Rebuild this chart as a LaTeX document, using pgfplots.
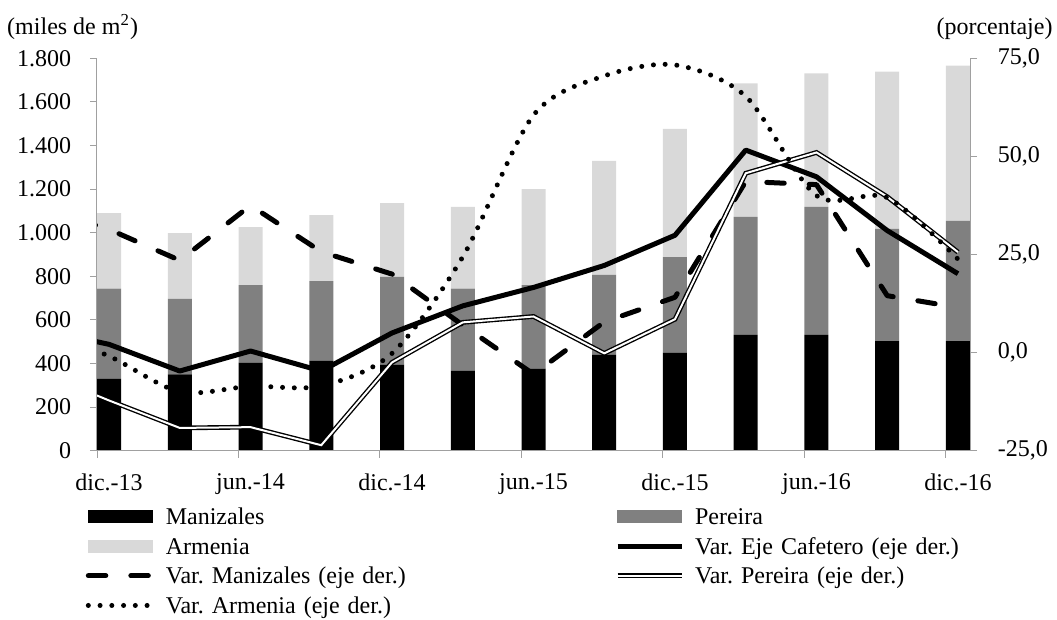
\documentclass[border=0pt]{standalone}
\usepackage{fontspec}
\setmainfont{Liberation Serif}
\usepackage{pgfplots}
\pgfplotsset{compat=1.18}
\definecolor{axgray}{RGB}{160,160,160}
\definecolor{pgray}{RGB}{128,128,128}
\definecolor{agray}{RGB}{217,217,217}
\pgfplotsset{
  lineleg/.style={legend image code/.code={\draw[##1] (0pt,0pt) -- (25.6pt,0pt); \path (30pt,0pt);}},
  barleg/.style={legend image code/.code={\fill[#1] (0pt,-2.4pt) rectangle (25.6pt,2.4pt); \path (30pt,0pt);}},
}
\frenchspacing
\begin{document}
\frenchspacing
\begin{tikzpicture}[font=\fontsize{9.6}{11.5}\selectfont\frenchspacing]
\pgfplotsset{
  every axis/.append style={
    scale only axis, width=349.2pt, height=156.96pt, at={(0pt,0pt)}, anchor=south west,
    xmin=-0.17, xmax=12.17,
    axis line style={draw=axgray, line width=0.4pt},
    tick style={draw=axgray, line width=0.4pt},
    tick align=outside, major tick length=2.8pt,
    tick label style={font=\fontsize{9.6}{11.5}\selectfont},
  }
}
\begin{axis}[
  ybar stacked, bar width=9.6pt,
  ymin=0, ymax=1800,
  axis y line*=left, axis x line*=bottom,
  ytick={0,200,...,1800},
  yticklabels={0,200,400,600,800,1.000,1.200,1.400,1.600,1.800},
  yticklabel style={xshift=-4pt},
  xtick={0,2,...,12},
  xticklabels={dic.-13,jun.-14,dic.-14,jun.-15,dic.-15,jun.-16,dic.-16},
  xtick style={draw=none},
  xticklabel style={yshift=-3pt},
]
\addplot[fill=black, draw=none] coordinates {(0,329) (1,350) (2,404) (3,413) (4,395) (5,367) (6,376) (7,439) (8,450) (9,531) (10,531) (11,503) (12,503)};
\addplot[fill=pgray, draw=none] coordinates {(0,414) (1,346) (2,356) (3,365) (4,402) (5,376) (6,384) (7,367) (8,438) (9,541) (10,587) (11,514) (12,551)};
\addplot[fill=agray, draw=none] coordinates {(0,347) (1,302) (2,266) (3,303) (4,339) (5,375) (6,440) (7,523) (8,588) (9,613) (10,613) (11,722) (12,712)};
\end{axis}
\begin{axis}[
  ymin=-25, ymax=75,
  axis y line*=right, axis x line*=bottom,
  ytick={-25,0,25,50,75},
  yticklabels={{-25,0},{0,0},{25,0},{50,0},{75,0}},
  yticklabel style={xshift=4.8pt},
  xtick={-0.17,1.83,3.83,5.83,7.83,9.83,11.83},
  xticklabels={},
  legend columns=2,
  legend cell align=left,
  legend style={draw=none, fill=none, inner sep=0pt, outer sep=0pt, column sep=0pt, row sep=0pt,
    at={(-0.0128,-0.1295)}, anchor=north west,
    nodes={inner sep=0pt, text width=179.7pt, minimum height=11.88pt, text height=8pt, text depth=1.6pt, anchor=west, align=left, font=\fontsize{9.6}{11.5}\selectfont\frenchspacing}},
]
\addlegendimage{barleg=black}
\addlegendentry{Manizales}
\addlegendimage{barleg=pgray}
\addlegendentry{Pereira}
\addlegendimage{barleg=agray}
\addlegendentry{Armenia}
\addplot[black, line width=2pt, line join=round, lineleg]
  coordinates {(-1,6) (0,2.1) (1,-4.7) (2,0.4) (3,-4.7) (4,5.0) (5,11.9) (6,16.6) (7,22.2) (8,29.9) (9,51.6) (10,44.8) (11,31.1) (12,20.1)};
\addlegendentry{Var. Eje Cafetero (eje der.)}
\addplot[black, line width=2pt, line cap=round, line join=round, dash pattern=on 7pt off 10pt, lineleg]
  coordinates {(-1,37) (0,31.4) (1,23.5) (2,37.5) (3,25.7) (4,20.0) (5,7.0) (6,-5.5) (7,7.8) (8,14.1) (9,43.6) (10,42.8) (11,14.5) (12,11.5)};
\addlegendentry{Var. Manizales (eje der.)}
\addplot[draw=black, double=white, double distance=0.8pt, line width=0.55pt, lineleg]
  coordinates {(-1,-4.8) (0,-12.2) (1,-19.2) (2,-19.0) (3,-23.6) (4,-2.5) (5,7.7) (6,9.2) (7,-0.2) (8,8.5) (9,45.7) (10,51.0) (11,39.7) (12,25.6)};
\addlegendentry{Var. Pereira (eje der.)}
\addplot[black, line width=2pt, line cap=round, dash pattern=on 0pt off 4.7pt, smooth, tension=0.5, lineleg]
  coordinates {(-1,6) (0,-0.9) (1,-10.0) (2,-8.6) (3,-8.5) (4,-0.2) (5,24.4) (6,60.5) (7,70.5) (8,73.3) (9,65.3) (10,40.0) (11,39.5) (12,23.8)};
\addlegendentry{Var. Armenia (eje der.)}
\end{axis}
\node[anchor=base west, inner sep=0pt] at (-36.1pt,166.3pt) {(miles de m\textsuperscript{2})};
\node[anchor=base east, inner sep=0pt] at (382.4pt,166.3pt) {(porcentaje)};
\pgfresetboundingbox
\path (-38.8pt,-67.72pt) rectangle (384pt,180.28pt);
\end{tikzpicture}
\end{document}
